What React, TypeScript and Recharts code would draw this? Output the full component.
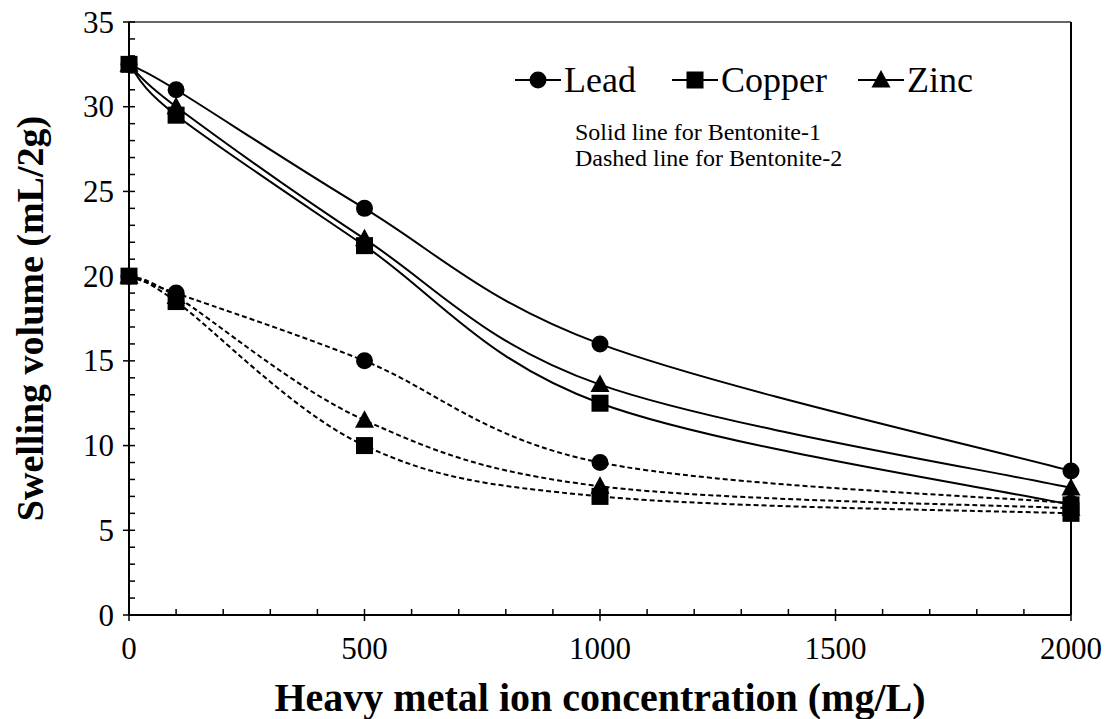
import { LineChart, Line, XAxis, YAxis, ReferenceLine, Legend, Label } from "recharts";

// Swelling volume of the two bentonites against heavy metal ion concentration
const concentrations = [0, 100, 500, 1000, 2000];
const lead1 = [32.5, 31, 24, 16, 8.5];
const zinc1 = [32.5, 30, 22.2, 13.6, 7.5];
const copper1 = [32.5, 29.5, 21.8, 12.5, 6.5];
const lead2 = [20, 19, 15, 9, 6.6];
const zinc2 = [20, 18.8, 11.5, 7.6, 6.3];
const copper2 = [20, 18.5, 10, 7, 6.0];

const metalNames = ["Lead", "Copper", "Zinc"];
const notes = ["Solid line for Bentonite-1", "Dashed line for Bentonite-2"];

const xMajorTicks = [0, 500, 1000, 1500, 2000];
const yMajorTicks = [0, 5, 10, 15, 20, 25, 30, 35];
const xAllTicks = Array.from({ length: 21 }, (_, i) => i * 100);
const yAllTicks = Array.from({ length: 36 }, (_, i) => i);

const data = concentrations.map((c, i) => ({
  c,
  lead1: lead1[i],
  zinc1: zinc1[i],
  copper1: copper1[i],
  lead2: lead2[i],
  zinc2: zinc2[i],
  copper2: copper2[i],
}));

const FONT = "'Liberation Serif', 'Times New Roman', serif";

// copper drawn last so its squares sit on top
const series = [
  { key: "lead1", shape: "circle", dashed: false },
  { key: "zinc1", shape: "triangle", dashed: false },
  { key: "copper1", shape: "square", dashed: false },
  { key: "lead2", shape: "circle", dashed: true },
  { key: "zinc2", shape: "triangle", dashed: true },
  { key: "copper2", shape: "square", dashed: true },
];

// Excel-style smoothed line: cubic bezier with control points at 1/6 of neighbour spread
function smoothCurve(context: any) {
  let pts: number[][] = [];
  return {
    areaStart() {},
    areaEnd() {},
    lineStart() {
      pts = [];
    },
    point(x: number, y: number) {
      pts.push([+x, +y]);
    },
    lineEnd() {
      if (!pts.length) return;
      context.moveTo(pts[0][0], pts[0][1]);
      for (let i = 0; i < pts.length - 1; i++) {
        const p0 = pts[i - 1] || pts[i];
        const p1 = pts[i];
        const p2 = pts[i + 1];
        const p3 = pts[i + 2] || p2;
        context.bezierCurveTo(
          p1[0] + (p2[0] - p0[0]) / 6,
          p1[1] + (p2[1] - p0[1]) / 6,
          p2[0] - (p3[0] - p1[0]) / 6,
          p2[1] - (p3[1] - p1[1]) / 6,
          p2[0],
          p2[1]
        );
      }
    },
  };
}

function Marker({ shape, cx, cy }: { shape: string; cx?: number; cy?: number }) {
  if (cx == null || cy == null) return null;
  if (shape === "circle") return <circle cx={cx} cy={cy} r={8.5} fill="#000" />;
  if (shape === "square")
    return <rect x={cx - 8.5} y={cy - 8.5} width={17} height={17} fill="#000" />;
  return (
    <path
      d={`M${cx},${cy - 10}L${cx + 9.5},${cy + 7.5}L${cx - 9.5},${cy + 7.5}Z`}
      fill="#000"
    />
  );
}

function XTick(props: any) {
  const { x, y, payload } = props;
  const major = xMajorTicks.includes(payload.value);
  return (
    <g>
      <line x1={x} x2={x} y1={y - 6} y2={major ? y + 6 : y} stroke="#000" strokeWidth={1.5} />
      {major && (
        <text
          x={x}
          y={y + 33}
          textAnchor="middle"
          dominantBaseline="central"
          fontFamily={FONT}
          fontSize={31}
          fill="#000"
        >
          {payload.value}
        </text>
      )}
    </g>
  );
}

function YTick(props: any) {
  const { x, y, payload } = props;
  const major = yMajorTicks.includes(payload.value);
  return (
    <g>
      <line x1={major ? x - 6 : x} x2={x + 6} y1={y} y2={y} stroke="#000" strokeWidth={1.5} />
      {major && (
        <text
          x={x - 15}
          y={y}
          textAnchor="end"
          dominantBaseline="central"
          fontFamily={FONT}
          fontSize={31}
          fill="#000"
        >
          {payload.value}
        </text>
      )}
    </g>
  );
}

function LegendBlock() {
  const itemX = [515, 672, 858];
  const shapes = ["circle", "square", "triangle"];
  const rowY = 80;
  return (
    <svg width={1111} height={200} style={{ overflow: "visible" }}>
      {metalNames.map((name, i) => (
        <g key={name}>
          <line x1={itemX[i]} x2={itemX[i] + 46} y1={rowY} y2={rowY} stroke="#000" strokeWidth={2} />
          <Marker shape={shapes[i]} cx={itemX[i] + 23} cy={rowY} />
          <text
            x={itemX[i] + 49}
            y={rowY}
            dominantBaseline="central"
            fontFamily={FONT}
            fontSize={36}
            fill="#000"
          >
            {name}
          </text>
        </g>
      ))}
      {notes.map((t, i) => (
        <text
          key={t}
          x={575}
          y={132 + i * 26}
          dominantBaseline="central"
          fontFamily={FONT}
          fontSize={24}
          fill="#000"
        >
          {t}
        </text>
      ))}
    </svg>
  );
}

export default function App() {
  return (
    <div style={{ position: "absolute", left: 0, top: 0, width: 1111, height: 719, background: "#fff" }}>
      <LineChart
        width={1111}
        height={719}
        data={data}
        margin={{ top: 22, right: 40, bottom: 0, left: 0 }}
      >
        <XAxis
          type="number"
          dataKey="c"
          domain={[0, 2000]}
          ticks={xAllTicks}
          interval={0}
          height={104}
          tick={<XTick />}
          tickLine={false}
          tickSize={0}
          tickMargin={0}
          axisLine={{ stroke: "#000", strokeWidth: 2 }}
        >
          <Label
            value="Heavy metal ion concentration (mg/L)"
            position="insideBottom"
            offset={8}
            style={{ fontFamily: FONT, fontSize: 40, fontWeight: "bold", fill: "#000" }}
          />
        </XAxis>
        <YAxis
          type="number"
          domain={[0, 35]}
          ticks={yAllTicks}
          interval={0}
          width={129}
          tick={<YTick />}
          tickLine={false}
          tickSize={0}
          tickMargin={0}
          axisLine={{ stroke: "#000", strokeWidth: 2 }}
        >
          <Label
            value="Swelling volume (mL/2g)"
            angle={-90}
            position="insideLeft"
            offset={30}
            style={{ textAnchor: "middle", fontFamily: FONT, fontSize: 38, fontWeight: "bold", fill: "#000" }}
          />
        </YAxis>
        <ReferenceLine y={35} stroke="#333" strokeWidth={1.5} />
        <ReferenceLine x={2000} stroke="#000" strokeWidth={2} />
        <Legend
          content={<LegendBlock />}
          layout="horizontal"
          verticalAlign="middle"
          align="center"
          wrapperStyle={{ top: 0, left: 0, width: 1111, height: 200, pointerEvents: "none" }}
        />
        {series.map((s) => (
          <Line
            key={s.key}
            dataKey={s.key}
            type={smoothCurve as any}
            stroke="#000"
            strokeWidth={2}
            strokeDasharray={s.dashed ? "5 3" : undefined}
            dot={(p: any) => <Marker key={`${s.key}-${p.index}`} shape={s.shape} cx={p.cx} cy={p.cy} />}
            activeDot={false}
            isAnimationActive={false}
            legendType="none"
          />
        ))}
      </LineChart>
    </div>
  );
}
